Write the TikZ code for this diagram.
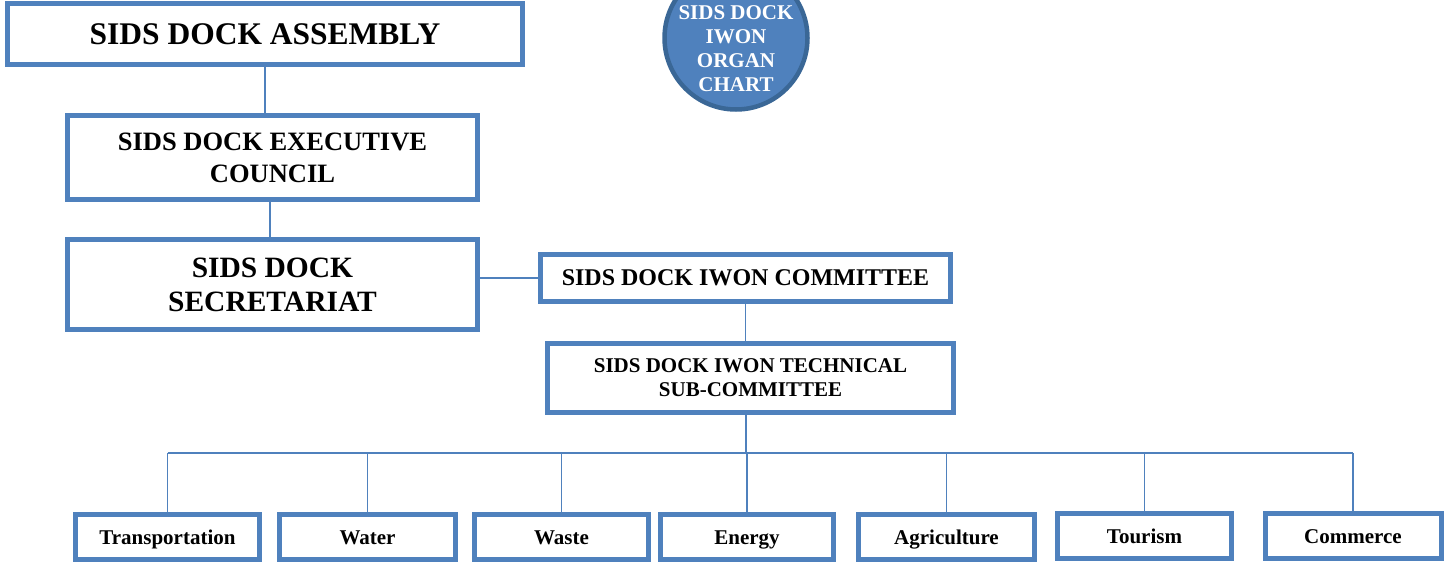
\documentclass[tikz,border=0pt]{standalone}
\usepackage{fontspec}
\setmainfont{Liberation Serif}
\usetikzlibrary{positioning}
\definecolor{boxblue}{HTML}{4F81BD}
\definecolor{ringblue}{HTML}{3A6796}
\newcommand{\fsz}[2]{\fontsize{#1}{#2}\selectfont}
\begin{document}
\begin{tikzpicture}[x=1pt,y=-1pt,
  orgbox/.style={draw=boxblue, line width=5pt, fill=white, inner sep=0pt, align=center, font=\bfseries},
  areabox/.style={orgbox, minimum height=45pt, text height=14pt, text depth=0pt, font=\bfseries\fsz{21}{24}},
  link/.style={draw=boxblue, line width=1.6pt}]
  \useasboundingbox (0,0) rectangle (1449,563);

  % chart badge
  \node[circle, draw=ringblue, line width=4.5pt, fill=boxblue, minimum size=143pt] (badge) at (736,38) {};
  \node[text=white, align=center, font=\bfseries\fsz{21}{24}] (badgetxt) at (736,48.5) {SIDS DOCK\\IWON\\ORGAN\\CHART};

  % assembly, council, secretariat
  \node[orgbox, minimum width=515pt, minimum height=61pt, font=\bfseries\fsz{31.5}{36}] (assembly) at (265,34) {SIDS DOCK ASSEMBLY};
  \node[orgbox, minimum width=410pt, minimum height=84pt, font=\bfseries\fsz{26.5}{32}] (council) at (272.5,157.5) {SIDS DOCK EXECUTIVE\\COUNCIL};
  \node[orgbox, minimum width=410pt, minimum height=90pt, font=\bfseries\fsz{29.5}{34}] (secretariat) at (272.5,284.5) {SIDS DOCK\\SECRETARIAT};

  % IWON committee and sub-committee
  \node[orgbox, minimum width=410pt, minimum height=47pt, font=\bfseries\fsz{24}{28}] (committee) at (745.5,278) {SIDS DOCK IWON COMMITTEE};
  \node[orgbox, minimum width=406pt, minimum height=69pt, font=\bfseries\fsz{21}{24}] (technical) at (750.5,378) {SIDS DOCK IWON TECHNICAL\\SUB-COMMITTEE};

  % working areas
  \node[areabox, minimum width=184pt] (transport) at (167.5,537) {Transportation};
  \node[areabox, minimum width=176pt] (water) at (367.5,537) {Water};
  \node[areabox, minimum width=174pt] (waste) at (561.5,537) {Waste};
  \node[areabox, minimum width=173pt] (energy) at (747,537) {Energy};
  \node[areabox, minimum width=176pt] (agri) at (946.5,537) {Agriculture};
  \node[areabox, minimum width=174pt] (tourism) at (1144.5,536) {Tourism};
  \node[areabox, minimum width=176pt] (commerce) at (1353,536) {Commerce};

  % links
  \coordinate (bus) at (746,453);
  \draw[link] (assembly.south) -- (assembly.south |- council.north);
  \draw[link] ([xshift=-2.5pt]council.south) -- ([xshift=-2.5pt]secretariat.north);
  \draw[link] (committee.west) -- (committee.west -| secretariat.east);
  \draw[link] (committee.south) -- (committee.south |- technical.north);
  \draw[link] (technical.south -| bus) -- (bus);
  \draw[link] (transport.north |- bus) -- (commerce.north |- bus);
  \foreach \area in {transport,water,waste,energy,agri,tourism,commerce}
    \draw[link] (\area.north) -- (\area.north |- bus);
\end{tikzpicture}
\end{document}
